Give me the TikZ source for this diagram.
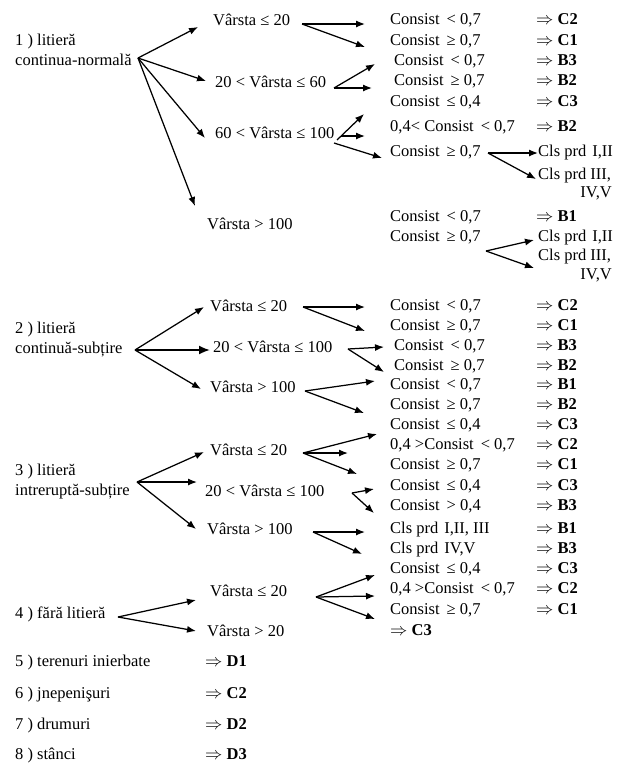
\documentclass[tikz,border=0pt]{standalone}
\usepackage{fontspec}
\setmainfont{Liberation Serif}
\usetikzlibrary{arrows.meta}
\begin{document}
\begin{tikzpicture}[x=1pt,y=-1pt,
  lbl/.style={anchor=west,inner sep=0pt,text height=11pt,text depth=3.5pt,font=\fontsize{16.5}{18}\selectfont},
  lble/.style={lbl,anchor=east},
  arr/.style={-{Latex[length=9pt,width=7pt]},line width=1.25pt},
  arrb/.style={-{Latex[length=11pt,width=9pt]},line width=1.8pt},
]
\useasboundingbox (0,0) rectangle (620,763);
\newcommand{\res}[1]{$\Rightarrow$ \textbf{#1}}
\newcommand{\cs}{Consist\hspace{7pt}}

% ---------- group 1 ----------
\node[lbl] (g1a) at (15,42) {1 ) litieră};
\node[lbl] (g1b) at (15,62) {continua-normală};
\node[lbl] (v11) at (213,22) {Vârsta ≤ 20};
\node[lbl] (v12) at (215,84) {20 < Vârsta ≤ 60};
\node[lbl] (v13) at (215,135) {60 < Vârsta ≤ 100};
\node[lbl] (v14) at (207,226) {Vârsta > 100};

\node[lbl] (r1) at (390,21) {\cs< 0,7};   \node[lbl] (q1) at (536,21) {\res{C2}};
\node[lbl] (r2) at (390,42) {\cs≥ 0,7};   \node[lbl] (q2) at (536,42) {\res{C1}};
\node[lbl] (r3) at (394,62) {\cs< 0,7};   \node[lbl] (q3) at (536,62) {\res{B3}};
\node[lbl] (r4) at (394,82) {\cs≥ 0,7};   \node[lbl] (q4) at (536,82) {\res{B2}};
\node[lbl] (r5) at (390,103) {\cs≤ 0,4};  \node[lbl] (q5) at (536,103) {\res{C3}};
\node[lbl] (r6) at (390,128) {0,4< \cs< 0,7}; \node[lbl] (q6) at (536,128) {\res{B2}};
\node[lbl] (r7) at (390,153) {\cs≥ 0,7};
\node[lbl] (k7a) at (538,153) {Cls prd\hspace{6pt}I,II};
\node[lbl] (k7b) at (538,176) {Cls prd III,};
\node[lble] (k7c) at (612,194) {IV,V};
\node[lbl] (r8) at (390,218) {\cs< 0,7};  \node[lbl] (q8) at (536,218) {\res{B1}};
\node[lbl] (r9) at (390,238) {\cs≥ 0,7};
\node[lbl] (k9a) at (538,238) {Cls prd\hspace{6pt}I,II};
\node[lbl] (k9b) at (538,257) {Cls prd III,};
\node[lble] (k9c) at (612,276) {IV,V};

% ---------- group 2 ----------
\node[lbl] (g2a) at (15,330) {2 ) litieră};
\node[lbl] (g2b) at (15,350) {continuă-subțire};
\node[lbl] (v21) at (210,308) {Vârsta ≤ 20};
\node[lbl] (v22) at (213,349) {20 < Vârsta ≤ 100};
\node[lbl] (v23) at (210,389) {Vârsta > 100};

\node[lbl] (r10) at (390,307) {\cs< 0,7};  \node[lbl] (q10) at (536,307) {\res{C2}};
\node[lbl] (r11) at (390,327) {\cs≥ 0,7};  \node[lbl] (q11) at (536,327) {\res{C1}};
\node[lbl] (r12) at (394,347) {\cs< 0,7};  \node[lbl] (q12) at (536,347) {\res{B3}};
\node[lbl] (r13) at (394,367) {\cs≥ 0,7};  \node[lbl] (q13) at (536,367) {\res{B2}};
\node[lbl] (r14) at (390,386) {\cs< 0,7};  \node[lbl] (q14) at (536,386) {\res{B1}};
\node[lbl] (r15) at (390,406) {\cs≥ 0,7};  \node[lbl] (q15) at (536,406) {\res{B2}};

% ---------- group 3 ----------
\node[lbl] (g3a) at (15,472) {3 ) litieră};
\node[lbl] (g3b) at (15,492) {intreruptă-subțire};
\node[lbl] (v31) at (210,452) {Vârsta ≤ 20};
\node[lbl] (v32) at (205,493) {20 < Vârsta ≤ 100};
\node[lbl] (v33) at (207,531) {Vârsta > 100};

\node[lbl] (r16) at (390,426) {\cs≤ 0,4};  \node[lbl] (q16) at (536,426) {\res{C3}};
\node[lbl] (r17) at (390,446) {0,4 >\cs< 0,7}; \node[lbl] (q17) at (536,446) {\res{C2}};
\node[lbl] (r18) at (390,466) {\cs≥ 0,7};  \node[lbl] (q18) at (536,466) {\res{C1}};
\node[lbl] (r19) at (390,487) {\cs≤ 0,4};  \node[lbl] (q19) at (536,487) {\res{C3}};
\node[lbl] (r20) at (390,507) {\cs> 0,4};  \node[lbl] (q20) at (536,507) {\res{B3}};
\node[lbl] (r21) at (390,530) {Cls prd\hspace{6pt}I,II, III}; \node[lbl] (q21) at (536,530) {\res{B1}};
\node[lbl] (r22) at (390,550) {Cls prd\hspace{6pt}IV,V};      \node[lbl] (q22) at (536,550) {\res{B3}};

% ---------- group 4 ----------
\node[lbl] (g4) at (15,615) {4 ) fără litieră};
\node[lbl] (v41) at (210,593) {Vârsta ≤ 20};
\node[lbl] (v42) at (207,633) {Vârsta > 20};

\node[lbl] (r23) at (390,570) {\cs≤ 0,4};  \node[lbl] (q23) at (536,570) {\res{C3}};
\node[lbl] (r24) at (390,590) {0,4 >\cs< 0,7}; \node[lbl] (q24) at (536,590) {\res{C2}};
\node[lbl] (r25) at (390,611) {\cs≥ 0,7};  \node[lbl] (q25) at (536,611) {\res{C1}};
\node[lbl] (r26) at (390,632) {\res{C3}};

% ---------- groups 5-8 ----------
\node[lbl] (g5) at (15,663) {5 ) terenuri inierbate}; \node[lbl] (q5b) at (205,663) {\res{D1}};
\node[lbl] (g6) at (15,695) {6 ) jnepenişuri};        \node[lbl] (q6b) at (205,695) {\res{C2}};
\node[lbl] (g7) at (15,726) {7 ) drumuri};            \node[lbl] (q7b) at (205,726) {\res{D2}};
\node[lbl] (g8) at (15,756) {8 ) stânci};             \node[lbl] (q8b) at (205,756) {\res{D3}};

% ---------- connector points ----------
\coordinate (j1) at (138,58);
\coordinate (e1a) at (198,27); \coordinate (e1b) at (206,81);
\coordinate (e1c) at (205,138); \coordinate (e1d) at (195,206);
\coordinate (s11) at (302,24); \coordinate (e11a) at (365,24); \coordinate (e11b) at (365,47);
\coordinate (s12) at (334,88); \coordinate (e12a) at (375,64); \coordinate (e12b) at (372,88);
\coordinate (s13a) at (337,140); \coordinate (e13a) at (364,114);
\coordinate (s13b) at (341,136); \coordinate (e13b) at (365,136);
\coordinate (s13c) at (334,143); \coordinate (e13c) at (382,158);
\coordinate (s17) at (488,153); \coordinate (e17a) at (538,153); \coordinate (e17b) at (536,179);
\coordinate (s19) at (486,251); \coordinate (e19a) at (534,240); \coordinate (e19b) at (534,268);

\coordinate (j2) at (135,350);
\coordinate (e2a) at (204,307); \coordinate (e2b) at (210,350); \coordinate (e2c) at (201,389);
\coordinate (s21) at (303,307); \coordinate (e21a) at (365,307); \coordinate (e21b) at (365,331);
\coordinate (s22) at (348,349); \coordinate (e22a) at (384,347); \coordinate (e22b) at (384,372);
\coordinate (s23) at (305,391); \coordinate (e23a) at (375,381); \coordinate (e23b) at (364,413);

\coordinate (j3) at (137,482);
\coordinate (e3a) at (204,452); \coordinate (e3b) at (197,482); \coordinate (e3c) at (196,529);
\coordinate (s31) at (303,453); \coordinate (e31a) at (377,434); \coordinate (e31b) at (348,453); \coordinate (e31c) at (357,474);
\coordinate (s32) at (352,493); \coordinate (e32a) at (374,489); \coordinate (e32b) at (374,513);
\coordinate (s33) at (313,532); \coordinate (e33a) at (365,532); \coordinate (e33b) at (362,554);

\coordinate (j4) at (118,617);
\coordinate (e4a) at (196,600); \coordinate (e4b) at (196,631);
\coordinate (s41) at (316,597); \coordinate (e41a) at (375,575); \coordinate (e41b) at (375,596); \coordinate (e41c) at (375,619);

% ---------- connectors ----------
\foreach \a/\b in {j1/e1a,j1/e1b,j1/e1c,j1/e1d,
  s11/e11a,s11/e11b,s12/e12a,s12/e12b,s13a/e13a,s13b/e13b,s13c/e13c,
  s17/e17a,s17/e17b,s19/e19a,s19/e19b,
  j2/e2a,j2/e2c,s21/e21a,s21/e21b,s22/e22a,s22/e22b,s23/e23a,s23/e23b,
  j3/e3a,j3/e3b,j3/e3c,s31/e31a,s31/e31b,s31/e31c,s32/e32a,s32/e32b,s33/e33a,s33/e33b,
  j4/e4a,j4/e4b,s41/e41a,s41/e41b,s41/e41c}
  \draw[arr] (\a) -- (\b);
\draw[arrb] (j2) -- (e2b);
\end{tikzpicture}
\end{document}
